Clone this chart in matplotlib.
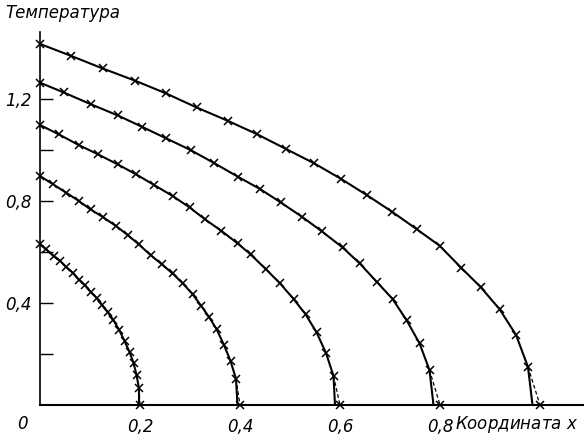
import numpy as np
import matplotlib
matplotlib.use('Agg')
import matplotlib.pyplot as plt

# marker points, one list per curve (x, temperature)
x1 = [0, 0.012, 0.027, 0.040, 0.052, 0.065, 0.078, 0.090, 0.101, 0.113,
      0.124, 0.135, 0.146, 0.158, 0.169, 0.179, 0.187, 0.193, 0.198, 0.200]
t1 = [0.631, 0.611, 0.584, 0.566, 0.542, 0.519, 0.492, 0.469, 0.444, 0.420,
      0.392, 0.365, 0.335, 0.296, 0.251, 0.208, 0.165, 0.118, 0.065, 0]

x2 = [0, 0.025, 0.052, 0.077, 0.101, 0.125, 0.152, 0.175, 0.197, 0.221,
      0.243, 0.265, 0.285, 0.305, 0.322, 0.338, 0.353, 0.368, 0.381, 0.392, 0.400]
t2 = [0.898, 0.867, 0.833, 0.801, 0.767, 0.738, 0.702, 0.667, 0.631, 0.588,
      0.553, 0.516, 0.478, 0.435, 0.390, 0.345, 0.298, 0.235, 0.173, 0.102, 0]

x3 = [0, 0.037, 0.077, 0.115, 0.155, 0.191, 0.228, 0.265, 0.299, 0.330,
      0.362, 0.395, 0.421, 0.452, 0.480, 0.507, 0.531, 0.553, 0.572, 0.587, 0.600]
t3 = [1.098, 1.062, 1.020, 0.984, 0.944, 0.906, 0.863, 0.820, 0.775, 0.728,
      0.684, 0.634, 0.591, 0.532, 0.477, 0.416, 0.356, 0.285, 0.204, 0.114, 0]

x4 = [0, 0.047, 0.101, 0.155, 0.204, 0.252, 0.301, 0.348, 0.396, 0.440,
      0.481, 0.524, 0.563, 0.605, 0.639, 0.673, 0.705, 0.733, 0.759, 0.779, 0.800]
t4 = [1.264, 1.226, 1.180, 1.136, 1.091, 1.046, 1.000, 0.949, 0.895, 0.847,
      0.795, 0.738, 0.682, 0.618, 0.556, 0.484, 0.416, 0.333, 0.242, 0.137, 0]

x5 = [0, 0.061, 0.125, 0.190, 0.252, 0.313, 0.375, 0.433, 0.492, 0.548,
      0.601, 0.653, 0.704, 0.753, 0.799, 0.842, 0.881, 0.919, 0.952, 0.976, 1.000]
t5 = [1.416, 1.370, 1.320, 1.272, 1.222, 1.167, 1.115, 1.063, 1.004, 0.948,
      0.888, 0.824, 0.758, 0.690, 0.625, 0.539, 0.463, 0.376, 0.275, 0.149, 0]

# where the solid (computed) curve meets the axis
solid_end = [0.198, 0.395, 0.590, 0.787, 0.985]

xticks = [0.2, 0.4, 0.6, 0.8]
xticklabels = ['0,2', '0,4', '0,6', '0,8']
yticks = [0.2, 0.4, 0.6, 0.8, 1.0, 1.2]
yticklabels = ['', '0,4', '', '0,8', '', '1,2']

W, H = 584, 437
fig = plt.figure(figsize=(W / 100, H / 100), dpi=100)
ax = fig.add_axes([40 / W, 32 / H, 544 / W, 373 / H])
ax.set_xlim(0, 544 / 500)
ax.set_ylim(0, 373 / 255)

fnt = dict(family='DejaVu Sans', style='italic', fontsize=12)

for xs, ts, xe in zip([x1, x2, x3, x4, x5], [t1, t2, t3, t4, t5], solid_end):
    xs = np.array(xs)
    ts = np.array(ts)
    # solid line through the points, bending down to its own end
    ax.plot(list(xs[:-1]) + [xe], list(ts[:-1]) + [0], color='black', lw=1.5,
            solid_capstyle='round', clip_on=False)
    # dashed stub to the last marker
    ax.plot(xs[-2:], ts[-2:], color='black', lw=0.9, ls=(0, (3, 2)), clip_on=False)
    ax.plot(xs, ts, ls='none', marker='x', color='black', ms=6, mew=1.1,
            clip_on=False, zorder=3)

for s in ['top', 'right']:
    ax.spines[s].set_visible(False)
ax.spines['left'].set_linewidth(1.2)
ax.spines['bottom'].set_linewidth(1.5)

ax.set_xticks(xticks)
ax.set_xticklabels(xticklabels, **fnt)
ax.tick_params(axis='x', length=0, pad=9)
ax.set_yticks(yticks)
ax.set_yticklabels(yticklabels, **fnt)
ax.tick_params(axis='y', direction='in', length=9, width=1.0, pad=6)

ax.text(-0.036, -0.075, '0', ha='center', va='center', **fnt)
ax.text(0.83, -0.075, 'Координата $x$', ha='left', va='center', **fnt)
fig.text(5 / W, 1 - 13 / H, 'Температура', ha='left', va='center', **fnt)

fig.savefig('out.png', dpi=100)
